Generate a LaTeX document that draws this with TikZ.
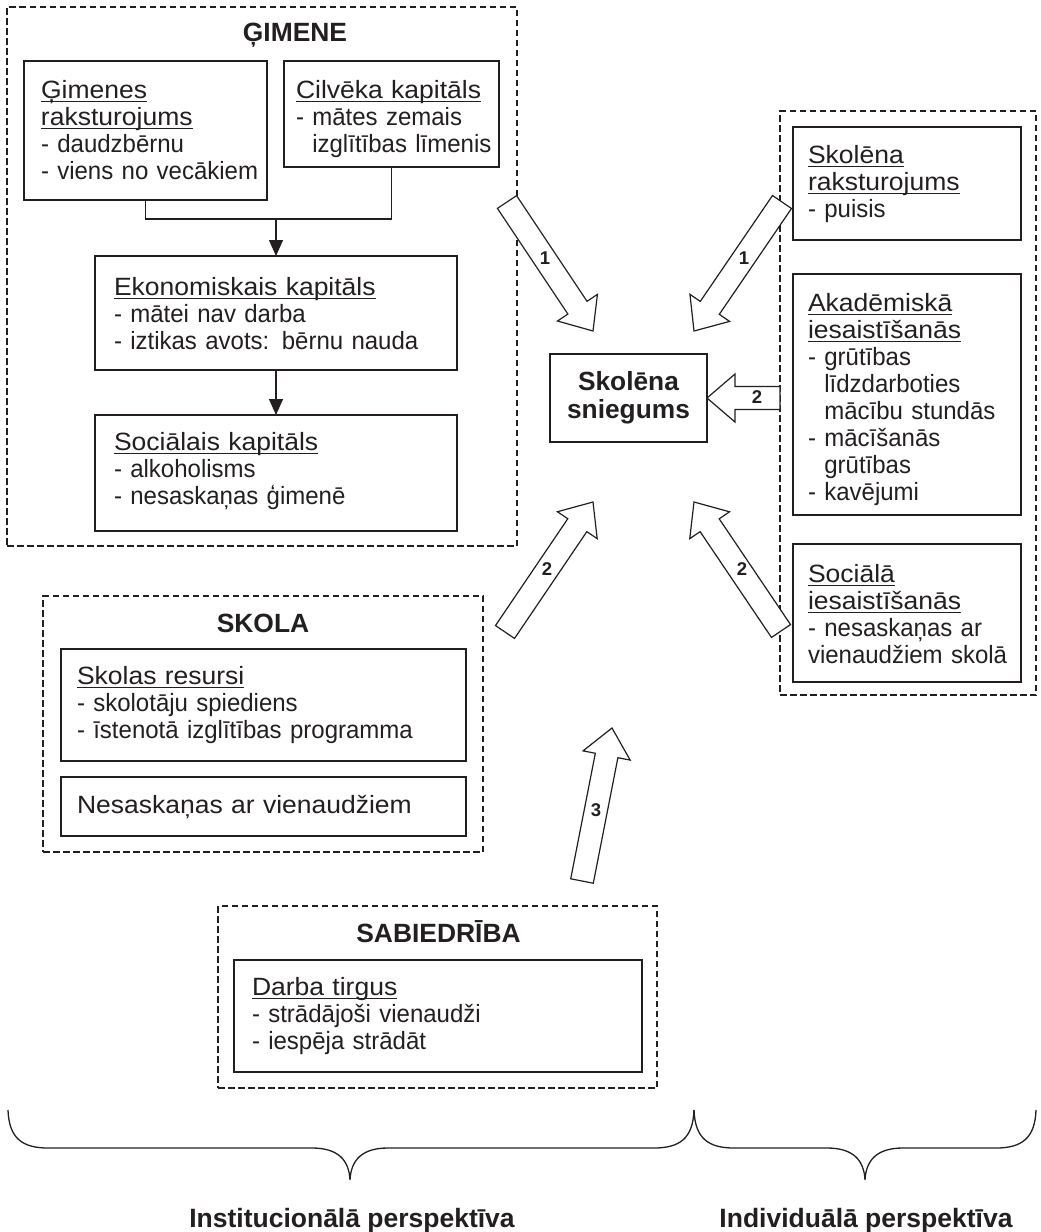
\documentclass[tikz,border=0pt]{standalone}
\usepackage{fontspec}
\setmainfont{Liberation Sans}
\newfontfamily\bodyface[FakeStretch=0.96]{Liberation Sans}
\newfontfamily\headface[FakeStretch=1.06]{Liberation Sans}
\usetikzlibrary{calc,arrows.meta}
\definecolor{ink}{RGB}{35,31,32}

% underlined heading: slightly wider face with a thin rule just under the baseline
\newsavebox\ulbox
\newcommand\ulword[1]{\leavevmode\sbox\ulbox{\headface #1}\rlap{\color{ink}\rule[-4.2pt]{\wd\ulbox}{1.4pt}}\usebox\ulbox}

% a framed panel given by its top-left and bottom-right corners
\newcommand\panel[6]{%
  \node[#1, anchor=north west, minimum width={#5-#3}, minimum height={#6-#4}] (#2) at (#3,#4) {};}

% a hollow block arrow from a tail point to a tip point
\newcommand\blockarrow[2]{%
  \coordinate (ba-neck) at ($(#2)!28pt!(#1)$);
  \draw[blockarr]
    ($(#1)!11.5pt!90:(#2)$) -- ($(ba-neck)!11.5pt!-90:(#1)$) -- ($(ba-neck)!24pt!-90:(#1)$)
    -- (#2) -- ($(ba-neck)!24pt!90:(#1)$) -- ($(ba-neck)!11.5pt!90:(#1)$)
    -- ($(#1)!11.5pt!-90:(#2)$) -- cycle;}

\begin{document}
\begin{tikzpicture}[x=1pt,y=-1pt,
  every node/.style={inner sep=0pt, outer sep=0pt, text=ink},
  grp/.style={draw=ink, line width=1.2pt, dash pattern=on 6.5pt off 3.5pt},
  card/.style={draw=ink, line width=1.3pt},
  body/.style={font=\bodyface\fontsize{25}{27}\selectfont, align=left, text width=420pt, anchor=base west},
  grptitle/.style={font=\fontsize{26.4}{28}\selectfont\bfseries, anchor=base},
  persp/.style={font=\fontsize{26.5}{28}\selectfont\bfseries, anchor=base},
  num/.style={font=\fontsize{18.5}{20}\selectfont\bfseries},
  link/.style={draw=ink, line width=1.3pt},
  tri/.style={-{Triangle[length=16pt,width=14pt]}},
  blockarr/.style={draw=ink, fill=white, line width=1.2pt, line join=miter},
  bracepath/.style={draw=ink, line width=1.3pt},
]
\useasboundingbox (0,0) rectangle (1041,1232);

% ---- family ----
\panel{grp}{famgrp}{7}{7}{517}{546}
\panel{card}{famtype}{24}{61}{267}{200}
\panel{card}{humcap}{284}{61}{499}{167}
\panel{card}{econcap}{95}{256}{457}{370}
\panel{card}{soccap}{95}{415}{457}{531}
\node[grptitle] (famgrp-t) at (295,41) {ĢIMENE};
\node[body] (famtype-t) at ($(famtype.north west)+(17,37)$)
  {\ulword{Ģimenes}\\\ulword{raksturojums}\\- daudzbērnu\\- viens no vecākiem};
\node[body] (humcap-t) at ($(humcap.north west)+(12,37)$)
  {\ulword{Cilvēka kapitāls}\\- mātes zemais\\\phantom{- }izglītības līmenis};
\node[body] (econcap-t) at ($(econcap.north west)+(19,39)$)
  {\ulword{Ekonomiskais kapitāls}\\- mātei nav darba\\- iztikas avots: bērnu nauda};
\node[body] (soccap-t) at ($(soccap.north west)+(19,35)$)
  {\ulword{Sociālais kapitāls}\\- alkoholisms\\- nesaskaņas ģimenē};

\coordinate (join) at (276,219);
\draw[link] (famtype.south) |- (join) -| (humcap.south);
\draw[link,tri] (join) -- (econcap.north);
\draw[link,tri] (econcap.south) -- (soccap.north);

% ---- individual ----
\panel{grp}{indgrp}{780}{111}{1036}{695}
\panel{card}{pupil}{793}{127}{1021}{240}
\panel{card}{acad}{793}{274}{1021}{515}
\panel{card}{social}{793}{544}{1021}{682}
\node[body] (pupil-t) at ($(pupil.north west)+(15,36)$)
  {\ulword{Skolēna}\\\ulword{raksturojums}\\- puisis};
\node[body] (acad-t) at ($(acad.north west)+(15,37)$)
  {\ulword{Akadēmiskā}\\\ulword{iesaistīšanās}\\- grūtības\\\phantom{- }līdzdarboties\\\phantom{- }mācību stundās\\- mācīšanās\\\phantom{- }grūtības\\- kavējumi};
\node[body] (social-t) at ($(social.north west)+(15,38)$)
  {\ulword{Sociālā}\\\ulword{iesaistīšanās}\\- nesaskaņas ar\\vienaudžiem skolā};

% ---- school ----
\panel{grp}{schgrp}{43}{596}{483}{852}
\panel{card}{schres}{61}{649}{466}{761}
\panel{card}{peers}{61}{777}{466}{836}
\node[grptitle] (schgrp-t) at (263,632) {SKOLA};
\node[body] (schres-t) at ($(schres.north west)+(16,35)$)
  {\ulword{Skolas resursi}\\- skolotāju spiediens\\- īstenotā izglītības programma};
\node[body] (peers-t) at ($(peers.north west)+(16,36)$) {\headface Nesaskaņas ar vienaudžiem};

% ---- society ----
\panel{grp}{socgrp}{218}{906}{657}{1088}
\panel{card}{labour}{234}{960}{642}{1072}
\node[grptitle] (socgrp-t) at (438.5,942) {SABIEDRĪBA};
\node[body] (labour-t) at ($(labour.north west)+(18,35)$)
  {\ulword{Darba tirgus}\\- strādājoši vienaudži\\- iespēja strādāt};

% ---- outcome ----
\node[card, line width=2.8pt, minimum width=157, minimum height=88, align=center,
      font=\fontsize{26.3}{28}\selectfont\bfseries] (perf) at (628.5,398) {Skolēna\\sniegums};

% ---- influence arrows ----
\coordinate (famA) at (507,202);   \coordinate (famB) at (593,331);
\coordinate (pupA) at (782,202);   \coordinate (pupB) at (694,331);
\coordinate (acaA) at (780,398);
\coordinate (schA) at (505,632);   \coordinate (schB) at (593,502);
\coordinate (socA) at (781,631);   \coordinate (socB) at (694,502);
\coordinate (sbA)  at (582,881);   \coordinate (sbB)  at (612,728);
\blockarrow{famA}{famB}
\blockarrow{pupA}{pupB}
\blockarrow{acaA}{perf.east}
\blockarrow{schA}{schB}
\blockarrow{socA}{socB}
\blockarrow{sbA}{sbB}
\node[num] (n-fam) at (545,258) {1};
\node[num] (n-pup) at (744,258) {1};
\node[num] (n-aca) at (757,397) {2};
\node[num] (n-sch) at (547,569) {2};
\node[num] (n-soc) at (742,569) {2};
\node[num] (n-sb)  at (596,810) {3};

% ---- perspectives ----
\draw[bracepath] (8,1110) .. controls (9,1138) and (22,1148) .. (48,1148) -- (312,1148)
  .. controls (338,1148) and (349,1160) .. (350,1180)
  .. controls (351,1160) and (362,1148) .. (388,1148) -- (654,1148)
  .. controls (680,1148) and (693,1138) .. (694,1110);
\draw[bracepath] (694,1110) .. controls (695,1138) and (708,1148) .. (734,1148) -- (827,1148)
  .. controls (853,1148) and (864,1160) .. (865,1180)
  .. controls (866,1160) and (877,1148) .. (903,1148) -- (996,1148)
  .. controls (1022,1148) and (1035,1138) .. (1036,1110);
\node[persp] (inst) at (352,1227) {Institucionālā perspektīva};
\node[persp] (indiv) at (866,1227) {Individuālā perspektīva};
\end{tikzpicture}
\end{document}
